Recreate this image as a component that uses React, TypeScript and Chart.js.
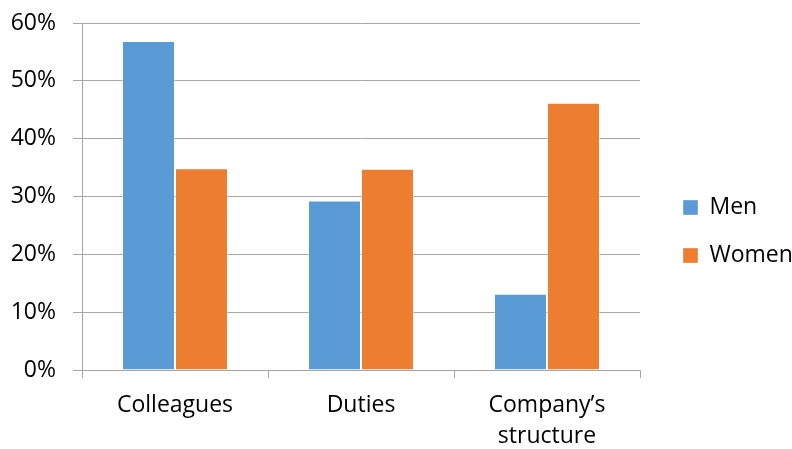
import React, { useEffect, useRef } from 'react';
import { Chart, registerables } from 'chart.js';

Chart.register(...registerables);

const categories: (string | string[])[] = ['Colleagues', 'Duties', ['Company’s', 'structure']];
const menValues = [56.9, 29.3, 13.2];
const womenValues = [34.9, 34.8, 46.2];
const seriesNames = ['Men', 'Women'];
const yMin = 0;
const yMax = 60;
const yStep = 10;

const FONT = "'Open Sans', sans-serif";
const GRID = '#A6A6A6';

const legendPlacer = {
  id: 'legendPlacer',
  afterLayout(chart: any) {
    const lg = chart.legend;
    if (!lg) return;
    const pad = lg.options.labels.padding;
    const w = lg.width;
    const h = lg.height;
    lg.left = 683 - pad;
    lg.right = lg.left + w;
    lg.top = 196 - pad;
    lg.bottom = lg.top + h;
  },
};

export default function App() {
  const ref = useRef<HTMLCanvasElement>(null);
  useEffect(() => {
    document.body.style.margin = '0';
    const ctx = ref.current!;
    const chart = new Chart(ctx, {
      type: 'bar',
      data: {
        labels: categories,
        datasets: [
          {
            label: seriesNames[0],
            data: menValues,
            backgroundColor: '#5B9BD5',
            borderColor: 'rgba(255,255,255,0.35)',
            borderWidth: 1,
          },
          {
            label: seriesNames[1],
            data: womenValues,
            backgroundColor: '#ED7D31',
            borderColor: 'rgba(255,255,255,0.35)',
            borderWidth: 1,
          },
        ],
      },
      options: {
        animation: false,
        responsive: false,
        devicePixelRatio: 1,
        layout: { padding: { left: 0, top: 23, right: 152, bottom: 0 } },
        datasets: { bar: { categoryPercentage: 0.57, barPercentage: 1 } },
        plugins: {
          tooltip: { enabled: false },
          legend: {
            position: 'chartArea' as any,
            align: 'start',
            labels: {
              boxWidth: 15,
              boxHeight: 15,
              padding: 25,
              color: '#000',
              font: { family: FONT, size: 23 },
            },
          },
        },
        scales: {
          x: {
            afterFit: (s: any) => {
              s.height = 79;
              s.paddingLeft = 0;
              s.paddingRight = 0;
            },
            grid: {
              offset: true,
              drawOnChartArea: false,
              drawTicks: true,
              tickLength: 8,
              color: GRID,
              lineWidth: 1,
            },
            border: { display: true, color: GRID, width: 1 },
            ticks: {
              color: '#000',
              padding: 12,
              maxRotation: 0,
              autoSkip: false,
              font: { family: FONT, size: 23, lineHeight: 1.35 },
            },
          },
          y: {
            min: yMin,
            max: yMax,
            afterFit: (s: any) => {
              s.width = 82;
              s.paddingTop = 0;
              s.paddingBottom = 0;
            },
            grid: { color: GRID, lineWidth: 1, tickLength: 9, drawTicks: true },
            border: { display: true, color: GRID, width: 1 },
            ticks: {
              stepSize: yStep,
              color: '#000',
              padding: 17,
              font: { family: FONT, size: 23 },
              callback: (v: any) => `${v}%`,
            },
          },
        },
      },
      plugins: [legendPlacer],
    });
    return () => chart.destroy();
  }, []);
  return (
    <div style={{ position: 'relative', width: 792, height: 449 }}>
      <canvas ref={ref} width={792} height={449} style={{ display: 'block' }} />
    </div>
  );
}
